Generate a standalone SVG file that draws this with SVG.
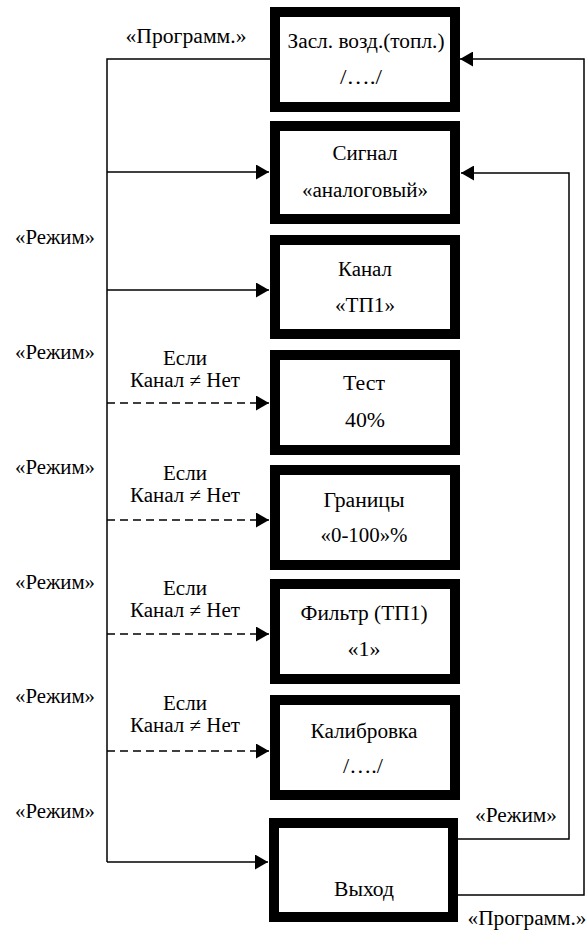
<svg xmlns="http://www.w3.org/2000/svg" width="588" height="935" viewBox="0 0 588 935">
  <style>
    .box { fill: #fff; stroke: #000; stroke-width: 10; }
    text { font-family: "Liberation Serif", "Times New Roman", serif; font-size: 20px; fill: #000; text-anchor: middle; }
    .ln { fill: none; stroke: #000; stroke-width: 1.5; }
    .dash { stroke-dasharray: 8 5; }
  </style>
  <defs>
    <marker id="arr" viewBox="0 0 13 15" refX="13" refY="7.5" markerWidth="13" markerHeight="15" markerUnits="userSpaceOnUse" orient="auto">
      <path d="M0,0 L13,7.5 L0,15 Z" fill="#000"/>
    </marker>
  </defs>

  <!-- connectors -->
  <g id="connectors">
    <!-- left bus -->
    <path class="ln" d="M270,59 H107 V862"/>
    <path class="ln" d="M107,172 H269" marker-end="url(#arr)"/>
    <path class="ln" d="M107,290 H269" marker-end="url(#arr)"/>
    <path class="ln dash" d="M107,403 H269" marker-end="url(#arr)"/>
    <path class="ln dash" d="M107,520 H269" marker-end="url(#arr)"/>
    <path class="ln dash" d="M107,634 H269" marker-end="url(#arr)"/>
    <path class="ln dash" d="M107,751 H269" marker-end="url(#arr)"/>
    <path class="ln" d="M107,862 H268" marker-end="url(#arr)"/>
    <!-- return paths from output -->
    <path class="ln" d="M458,839 H569 V173 H461" marker-end="url(#arr)"/>
    <path class="ln" d="M458,895 H584 V59 H460" marker-end="url(#arr)"/>
  </g>

  <!-- labels on connectors -->
  <g id="labels">
    <text x="186" y="43" textLength="121" lengthAdjust="spacingAndGlyphs">«Программ.»</text>
    <text x="55" y="244" textLength="80" lengthAdjust="spacingAndGlyphs">«Режим»</text>
    <text x="55" y="359" textLength="80" lengthAdjust="spacingAndGlyphs">«Режим»</text>
    <text x="55" y="474" textLength="80" lengthAdjust="spacingAndGlyphs">«Режим»</text>
    <text x="55" y="589" textLength="80" lengthAdjust="spacingAndGlyphs">«Режим»</text>
    <text x="55" y="703" textLength="80" lengthAdjust="spacingAndGlyphs">«Режим»</text>
    <text x="55" y="818" textLength="80" lengthAdjust="spacingAndGlyphs">«Режим»</text>
    <text x="185" y="365" textLength="44" lengthAdjust="spacingAndGlyphs">Если</text>
    <text x="185" y="387" textLength="110" lengthAdjust="spacingAndGlyphs">Канал ≠ Нет</text>
    <text x="185" y="480" textLength="44" lengthAdjust="spacingAndGlyphs">Если</text>
    <text x="185" y="502" textLength="110" lengthAdjust="spacingAndGlyphs">Канал ≠ Нет</text>
    <text x="185" y="595" textLength="44" lengthAdjust="spacingAndGlyphs">Если</text>
    <text x="185" y="617" textLength="110" lengthAdjust="spacingAndGlyphs">Канал ≠ Нет</text>
    <text x="185" y="710" textLength="44" lengthAdjust="spacingAndGlyphs">Если</text>
    <text x="185" y="732" textLength="110" lengthAdjust="spacingAndGlyphs">Канал ≠ Нет</text>
    <text x="516" y="822" textLength="82" lengthAdjust="spacingAndGlyphs">«Режим»</text>
    <text x="527" y="925" textLength="119" lengthAdjust="spacingAndGlyphs">«Программ.»</text>
  </g>

  <!-- nodes -->
  <g id="n-zaslonka">
    <rect class="box" x="275" y="12" width="180" height="95"/>
    <text x="366" y="48" textLength="157" lengthAdjust="spacingAndGlyphs">Засл. возд.(топл.)</text>
    <text x="361" y="84" textLength="42" lengthAdjust="spacingAndGlyphs">/…./</text>
  </g>
  <g id="n-signal">
    <rect class="box" x="275" y="126" width="180" height="93"/>
    <text x="365" y="160" textLength="65" lengthAdjust="spacingAndGlyphs">Сигнал</text>
    <text x="365" y="197" textLength="126" lengthAdjust="spacingAndGlyphs">«аналоговый»</text>
  </g>
  <g id="n-kanal">
    <rect class="box" x="275" y="240" width="180" height="94"/>
    <text x="365" y="276" textLength="54" lengthAdjust="spacingAndGlyphs">Канал</text>
    <text x="365" y="312" textLength="60" lengthAdjust="spacingAndGlyphs">«ТП1»</text>
  </g>
  <g id="n-test">
    <rect class="box" x="275" y="355" width="180" height="95"/>
    <text x="364" y="390" textLength="42" lengthAdjust="spacingAndGlyphs">Тест</text>
    <text x="365" y="427" textLength="40" lengthAdjust="spacingAndGlyphs">40%</text>
  </g>
  <g id="n-granitsy">
    <rect class="box" x="275" y="470" width="180" height="95"/>
    <text x="364" y="507" textLength="81" lengthAdjust="spacingAndGlyphs">Границы</text>
    <text x="364" y="542" textLength="87" lengthAdjust="spacingAndGlyphs">«0-100»%</text>
  </g>
  <g id="n-filtr">
    <rect class="box" x="275" y="584" width="180" height="95"/>
    <text x="364" y="620" textLength="127" lengthAdjust="spacingAndGlyphs">Фильтр (ТП1)</text>
    <text x="364" y="656" textLength="33" lengthAdjust="spacingAndGlyphs">«1»</text>
  </g>
  <g id="n-kalibrovka">
    <rect class="box" x="275" y="700" width="180" height="95"/>
    <text x="364" y="738" textLength="107" lengthAdjust="spacingAndGlyphs">Калибровка</text>
    <text x="363" y="773" textLength="40" lengthAdjust="spacingAndGlyphs">/…./</text>
  </g>
  <g id="n-vyhod">
    <rect class="box" x="274" y="823" width="179" height="94"/>
    <text x="364" y="896" textLength="60" lengthAdjust="spacingAndGlyphs">Выход</text>
  </g>
</svg>
